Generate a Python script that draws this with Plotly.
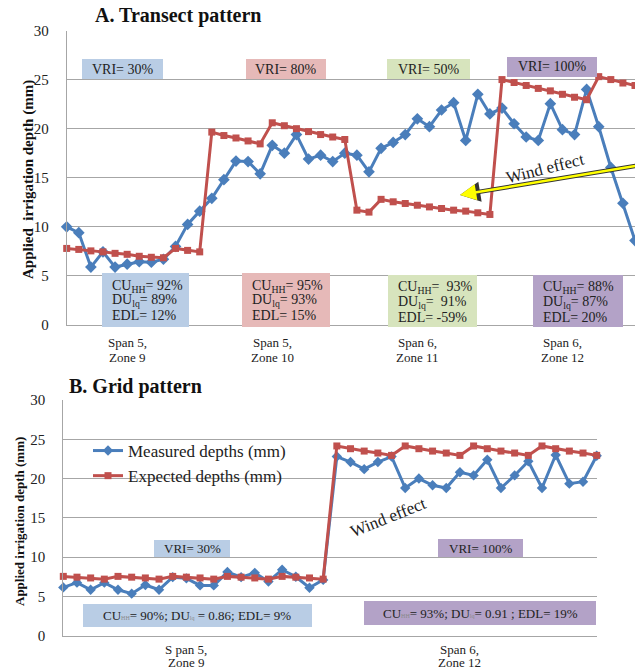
import plotly.graph_objects as go

# ---------------- data ----------------
# A. Transect pattern (48 measurement points, 12 per zone)
transect_measured = [10.0, 9.4, 5.9, 7.45, 5.9, 6.2, 6.45, 6.4, 6.7, 8.0, 10.25, 11.6,
                     12.9, 14.8, 16.7, 16.65, 15.4, 18.3, 17.5, 19.4, 16.9, 17.3, 16.65, 17.5,
                     17.3, 15.6, 18.0, 18.6, 19.4, 21.0, 20.2, 21.9, 22.65, 18.8, 23.5, 21.5,
                     22.1, 20.5, 19.15, 18.8, 22.55, 19.9, 19.4, 24.0, 20.2, 16.05, 12.4, 8.6]
transect_expected = [7.8, 7.7, 7.55, 7.45, 7.3, 7.2, 7.0, 6.9, 6.85, 7.8, 7.6, 7.45,
                     19.65, 19.3, 19.05, 18.75, 18.45, 20.6, 20.3, 20.0, 19.7, 19.4, 19.15, 18.9,
                     11.7, 11.5, 12.8, 12.55, 12.38, 12.2, 12.03, 11.87, 11.7, 11.6, 11.43, 11.26,
                     25.0, 24.7, 24.4, 24.1, 23.85, 23.5, 23.2, 22.95, 25.3, 25.0, 24.65, 24.4]
transect_tickpos = [5, 17, 29, 41]
transect_ticktext = [["Span 5,", "Zone 9"], ["Span 5,", "Zone 10"],
                     ["Span 6,", "Zone 11"], ["Span 6,", "Zone 12"]]
transect_vri = ["VRI= 30%", "VRI= 80%", "VRI= 50%", "VRI= 100%"]
transect_stats = [["CU<sub>HH</sub>= 92%", "DU<sub>lq</sub>= 89%", "EDL= 12%"],
                  ["CU<sub>HH</sub>= 95%", "DU<sub>lq</sub>= 93%", "EDL= 15%"],
                  ["CU<sub>HH</sub>=  93%", "DU<sub>lq</sub>=  91%", "EDL= -59%"],
                  ["CU<sub>HH</sub>= 88%", "DU<sub>lq</sub>= 87%", "EDL= 20%"]]

# B. Grid pattern (40 points, 20 per zone)
grid_measured = [6.15, 6.75, 5.85, 6.75, 5.85, 5.35, 6.45, 5.85, 7.45, 7.3,
                 6.4, 6.4, 8.1, 7.45, 8.0, 6.9, 8.4, 7.5, 6.1, 7.1,
                 22.8, 22.1, 21.2, 22.1, 22.8, 18.8, 20.0, 19.15, 18.8, 20.8,
                 20.4, 22.4, 18.8, 20.4, 22.2, 18.8, 23.0, 19.35, 19.6, 22.9]
grid_expected = [7.55, 7.45, 7.35, 7.2, 7.55, 7.45, 7.35, 7.2, 7.55, 7.45,
                 7.35, 7.2, 7.55, 7.45, 7.35, 7.2, 7.55, 7.45, 7.35, 7.2,
                 24.15, 23.8, 23.5, 23.25, 22.95, 24.15, 23.8, 23.5, 23.25, 22.95,
                 24.15, 23.8, 23.5, 23.25, 22.95, 24.15, 23.8, 23.5, 23.25, 22.95]
grid_tickpos = [9, 29]
grid_ticktext = [["S pan 5,", "Zone 9"], ["Span 6,", "Zone 12"]]
grid_vri = ["VRI= 30%", "VRI= 100%"]
sub_style = "<span style='font-size:6px;color:#8a8a8a'>"
grid_stats = ["CU" + sub_style + "HH</span>= 90%; DU" + sub_style + "lq</span> = 0.86; EDL= 9%",
              "CU" + sub_style + "HH</span>= 93%; DU" + sub_style + "lq</span>= 0.91 ; EDL= 19%"]

y_ticks = [0, 5, 10, 15, 20, 25, 30]

# ---------------- styling ----------------
W, H = 643, 669
PAGE_OFFSET = 8  # default body margin of the page holding the figure
SERIF = "Liberation Serif"
BLUE = "#4a7ebb"
RED = "#c0504d"
GRID = "#a6a6a6"
FILL_BLUE = "#b9cde5"
FILL_PINK = "#e6b9b8"
FILL_GREEN = "#d7e4bd"
FILL_PURPLE = "#b3a2c7"


def px(x):
    return (x - PAGE_OFFSET) / W


def py(y):
    return 1 - (y - PAGE_OFFSET) / H


fig = go.Figure()

fig.add_trace(go.Scatter(x=list(range(len(transect_measured))), y=transect_measured,
                         mode="lines+markers", line=dict(color=BLUE, width=3),
                         marker=dict(symbol="diamond", size=9, color=BLUE),
                         cliponaxis=False, showlegend=False, xaxis="x", yaxis="y"))
fig.add_trace(go.Scatter(x=list(range(len(transect_expected))), y=transect_expected,
                         mode="lines+markers", line=dict(color=RED, width=3),
                         marker=dict(symbol="square", size=7, color=RED),
                         cliponaxis=False, showlegend=False, xaxis="x", yaxis="y"))
fig.add_trace(go.Scatter(x=list(range(len(grid_measured))), y=grid_measured,
                         mode="lines+markers", line=dict(color=BLUE, width=3),
                         marker=dict(symbol="diamond", size=8, color=BLUE),
                         cliponaxis=False, name="Measured depths (mm)", xaxis="x2", yaxis="y2"))
fig.add_trace(go.Scatter(x=list(range(len(grid_expected))), y=grid_expected,
                         mode="lines+markers", line=dict(color=RED, width=3),
                         marker=dict(symbol="square", size=7, color=RED),
                         cliponaxis=False, name="Expected depths (mm)", xaxis="x2", yaxis="y2"))

tickfont = dict(family=SERIF, size=15, color="#222")

fig.update_layout(
    width=W, height=H, autosize=False,
    margin=dict(l=0, r=0, t=0, b=0, autoexpand=False),
    paper_bgcolor="white", plot_bgcolor="white",
    xaxis=dict(domain=[px(66.7), px(635)], range=[0, len(transect_measured) - 1],
               showgrid=False, zeroline=False, showline=True, linecolor=GRID, linewidth=1,
               showticklabels=False, ticks="", anchor="y", automargin=False),
    yaxis=dict(domain=[py(325), py(30.5)], range=[0, 30], tickvals=y_ticks,
               showgrid=True, gridcolor=GRID, gridwidth=1, zeroline=False,
               showline=True, linecolor=GRID, linewidth=1, ticks="",
               tickfont=tickfont, ticklabelstandoff=14, anchor="x", automargin=False),
    xaxis2=dict(domain=[px(63.3), px(596.7)], range=[0, len(grid_measured) - 1],
                showgrid=False, zeroline=False, showline=True, linecolor=GRID, linewidth=1,
                showticklabels=False, ticks="", anchor="y2", automargin=False),
    yaxis2=dict(domain=[py(635.7), py(400)], range=[0, 30], tickvals=y_ticks,
                showgrid=True, gridcolor=GRID, gridwidth=1, zeroline=False,
                showline=True, linecolor=GRID, linewidth=1, ticks="",
                tickfont=tickfont, ticklabelstandoff=14, anchor="x2", automargin=False),
    legend=dict(x=px(88), y=py(433), xanchor="left", yanchor="top",
                bgcolor="rgba(0,0,0,0)", font=dict(family=SERIF, size=17, color="#222"),
                itemwidth=30, tracegroupgap=0),
)

shapes = []
annotations = []


def box(x0, y0, x1, y1, fill):
    shapes.append(dict(type="rect", xref="paper", yref="paper",
                       x0=px(x0), x1=px(x1), y0=py(y1), y1=py(y0),
                       fillcolor=fill, line=dict(width=0), layer="above"))


def text(x, y, s, size=14, xanchor="center", angle=0, color="#222", xref="paper"):
    annotations.append(dict(xref=xref, yref="paper", x=px(x) if xref == "paper" else x,
                            y=py(y), text=s,
                            showarrow=False, xanchor=xanchor, yanchor="middle",
                            textangle=angle,
                            font=dict(family=SERIF, size=size, color=color)))


# Category labels below the x axes (placed on the axis scale)
for pos, lines in zip(transect_tickpos, transect_ticktext):
    text(pos, 342, lines[0], size=13, xref="x")
    text(pos, 357, lines[1], size=13, xref="x")
for pos, lines in zip(grid_tickpos, grid_ticktext):
    text(pos, 649, lines[0], size=13, xref="x2")
    text(pos, 662, lines[1], size=13, xref="x2")

# Titles
text(178, 16, "<b>A. Transect pattern</b>", size=20, color="#111")
text(135, 386, "<b>B. Grid pattern</b>", size=20, color="#111")
text(29, 180, "<b>Applied  irrigation depth (mm)</b>", size=15, angle=-90, color="#111")
text(19, 522, "<b>Applied irrigation depth (mm)</b>", size=13, angle=-90, color="#111")

# Top chart VRI boxes
vri_boxes = [(82, 59, 163, 79, FILL_BLUE), (246, 59, 326, 79, FILL_PINK),
             (387, 59, 470, 79, FILL_GREEN), (507, 57, 597, 77, FILL_PURPLE)]
for (x0, y0, x1, y1, c), s in zip(vri_boxes, transect_vri):
    box(x0, y0, x1, y1, c)
    text((x0 + x1) / 2, (y0 + y1) / 2, s, size=14)

# Top chart statistic boxes
stat_boxes = [(102, 273, 189, 327, FILL_BLUE), (242, 273, 330, 327, FILL_PINK),
              (388, 275, 477, 327, FILL_GREEN), (533, 275, 623, 327, FILL_PURPLE)]
for (x0, y0, x1, y1, c), lines in zip(stat_boxes, transect_stats):
    box(x0, y0, x1, y1, c)
    for i, s in enumerate(lines):
        text(x0 + 8, y0 + 13 + i * 14.5, s, size=14, xanchor="left")

# Bottom chart boxes
box(154, 540, 230, 557, FILL_BLUE)
text(192, 548.5, grid_vri[0], size=13)
box(83, 604, 312, 627, FILL_BLUE)
text(197, 615.5, grid_stats[0], size=13)
box(438, 539, 523, 557, FILL_PURPLE)
text(480.5, 548, grid_vri[1], size=13)
box(364, 601, 596, 625, FILL_PURPLE)
text(480, 613, grid_stats[1], size=13)

# Wind effect arrows / labels
for w, c, s in [(4.5, "#333", 0.9), (2.6, "#ffff00", 1.25)]:
    annotations.append(dict(xref="paper", yref="paper", x=px(460), y=py(195), text="",
                            showarrow=True, ax=181, ay=-30, arrowhead=2, arrowsize=s,
                            arrowwidth=w, arrowcolor=c))
text(545, 168, "Wind effect", size=17, angle=-14)
text(388, 517, "Wind effect", size=17, angle=-22)

fig.update_layout(shapes=shapes, annotations=annotations)

fig.write_html("out.html")
